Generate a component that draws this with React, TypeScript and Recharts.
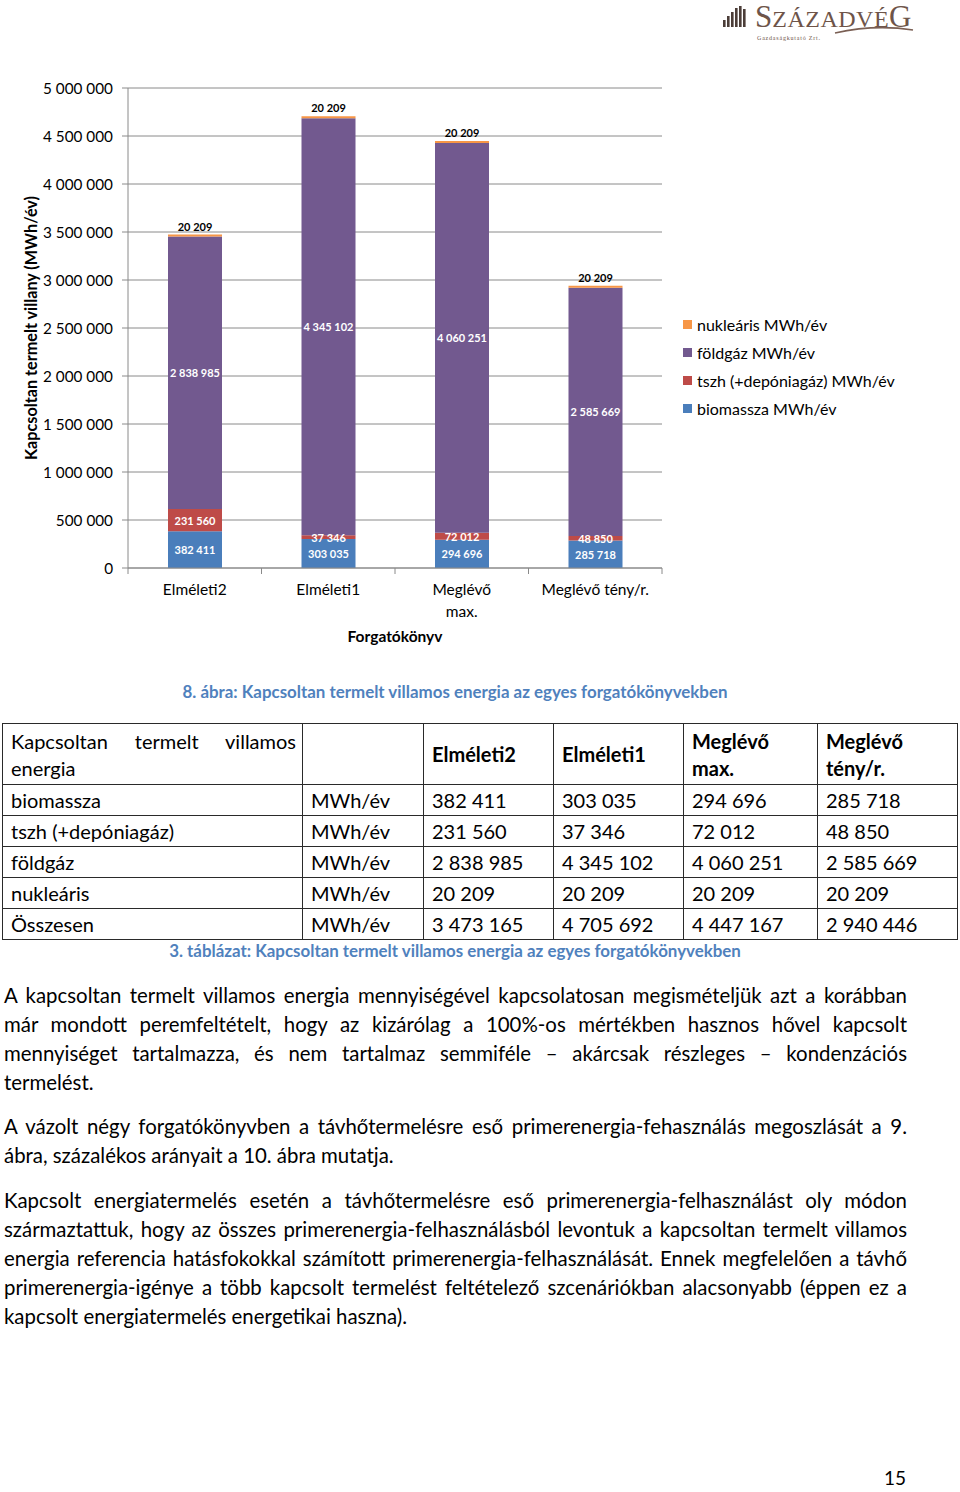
import React from "react";
import { BarChart, Bar, XAxis, YAxis, CartesianGrid, LabelList } from "recharts";

// ---------- data ----------
const categories = ["Elméleti2", "Elméleti1", "Meglévő max.", "Meglévő tény/r."];
const categoryTickLines = [["Elméleti2"], ["Elméleti1"], ["Meglévő", "max."], ["Meglévő tény/r."]];
const biomassza = [382411, 303035, 294696, 285718];
const tszh = [231560, 37346, 72012, 48850];
const foldgaz = [2838985, 4345102, 4060251, 2585669];
const nuklearis = [20209, 20209, 20209, 20209];
const osszesen = [3473165, 4705692, 4447167, 2940446];
const yTicks = [0, 500000, 1000000, 1500000, 2000000, 2500000, 3000000, 3500000, 4000000, 4500000, 5000000];

const seriesNames = {
  nuklearis: "nukleáris MWh/év",
  foldgaz: "földgáz MWh/év",
  tszh: "tszh (+depóniagáz) MWh/év",
  biomassza: "biomassza MWh/év",
};

const tableRowNames = ["biomassza", "tszh (+depóniagáz)", "földgáz", "nukleáris", "Összesen"];
const tableRowValues = [biomassza, tszh, foldgaz, nuklearis, osszesen];
const tableUnit = "MWh/év";

const para1 = [
  "A kapcsoltan termelt villamos energia mennyiségével kapcsolatosan megismételjük azt a korábban",
  "már mondott peremfeltételt, hogy az kizárólag a 100%-os mértékben hasznos hővel kapcsolt",
  "mennyiséget tartalmazza, és nem tartalmaz semmiféle – akárcsak részleges – kondenzációs",
  "termelést.",
];
const para2 = [
  "A vázolt négy forgatókönyvben a távhőtermelésre eső primerenergia-fehasználás megoszlását a 9.",
  "ábra, százalékos arányait a 10. ábra mutatja.",
];
const para3 = [
  "Kapcsolt energiatermelés esetén a távhőtermelésre eső primerenergia-felhasználást oly módon",
  "származtattuk, hogy az összes primerenergia-felhasználásból levontuk a kapcsoltan termelt villamos",
  "energia referencia hatásfokokkal számított primerenergia-felhasználását. Ennek megfelelően a távhő",
  "primerenergia-igénye a több kapcsolt termelést feltételező szcenáriókban alacsonyabb (éppen ez a",
  "kapcsolt energiatermelés energetikai haszna).",
];

// ---------- styling ----------
const C_BLUE = "#4A7EBB";
const C_RED = "#BE4B48";
const C_PURPLE = "#72598F";
const C_ORANGE = "#F79646";
const GRID = "#8A8A8A";
const CAPTION = "#4F81BD";
const FONT = "Lato, 'Open Sans', sans-serif";

const fmt = (v: any) => String(Math.round(Number(v))).replace(/\B(?=(\d{3})+(?!\d))/g, " ");

const data = categories.map((c, i) => ({
  name: c,
  biomassza: biomassza[i],
  tszh: tszh[i],
  foldgaz: foldgaz[i],
  nuklearis: nuklearis[i],
}));

const XTick = (props: any) => {
  const { x, y, payload } = props;
  const idx = payload.index ?? categories.indexOf(payload.value);
  const off = payload.offset ?? 66.75;
  const lines = categoryTickLines[idx] || [String(payload.value)];
  const axisY = y - 8;
  return (
    <g>
      <line x1={x + off} x2={x + off} y1={axisY} y2={axisY + 6} stroke={GRID} strokeWidth={1} />
      {idx === 0 && <line x1={x - off} x2={x - off} y1={axisY} y2={axisY + 6} stroke={GRID} strokeWidth={1} />}
      {lines.map((l: string, i: number) => (
        <text key={i} x={x} y={y + 19 + i * 22} textAnchor="middle" fill="#000" fontSize={15.5} fontFamily={FONT}>
          {l}
        </text>
      ))}
    </g>
  );
};

const CenterLabel = (p: any) => {
  const { x, y, width, height, value } = p;
  return (
    <text
      x={Number(x) + Number(width) / 2}
      y={Number(y) + Number(height) / 2}
      textAnchor="middle"
      dominantBaseline="central"
      fill="#fff"
      fontFamily={FONT}
      fontWeight={700}
      fontSize={11}
    >
      {fmt(value)}
    </text>
  );
};

const TopLabel = (p: any) => {
  const { x, y, width, value } = p;
  return (
    <text
      x={Number(x) + Number(width) / 2}
      y={Number(y) - 4}
      textAnchor="middle"
      fill="#000"
      fontFamily={FONT}
      fontWeight={700}
      fontSize={11}
    >
      {fmt(value)}
    </text>
  );
};

const legendItems = [
  { name: seriesNames.nuklearis, color: C_ORANGE },
  { name: seriesNames.foldgaz, color: C_PURPLE },
  { name: seriesNames.tszh, color: C_RED },
  { name: seriesNames.biomassza, color: C_BLUE },
];

const JustifiedLines = ({ lines, top }: { lines: string[]; top: number }) => (
  <div style={{ position: "absolute", left: 4, top, width: 903, fontFamily: FONT, fontSize: 20.4, lineHeight: "29px", color: "#000" }}>
    {lines.map((l, i) => (
      <div
        key={i}
        style={{
          textAlign: i === lines.length - 1 ? "left" : "justify",
          textAlignLast: i === lines.length - 1 ? "left" : "justify",
          whiteSpace: "normal",
        }}
      >
        {l}
      </div>
    ))}
  </div>
);

const Logo = () => (
  <svg width={220} height={48} style={{ position: "absolute", left: 715, top: 0 }}>
    {[7, 11, 15, 19, 21, 18].map((h, i) => (
      <rect key={i} x={8 + i * 4} y={27 - h} width={2.6} height={h} fill="#4b3d38" />
    ))}
    <text x={40} y={27} fontFamily="'Liberation Serif', serif" fill="#6e5449">
      <tspan fontSize={31}>S</tspan>
      <tspan fontSize={24} letterSpacing={0.5}>ZÁZADVÉ</tspan>
      <tspan fontSize={31}>G</tspan>
    </text>
    <path d="M 120 33 Q 160 24 198 30" stroke="#7a5f54" strokeWidth={1.6} fill="none" />
    <text x={42} y={40} fontFamily="'Liberation Serif', serif" fontSize={6} letterSpacing={0.8} fill="#6e5449">
      Gazdaságkutató Zrt.
    </text>
  </svg>
);

const cellBorder = "1.5px solid #2a2a2a";

const Table = () => {
  const cols = [300, 121, 130, 130, 134, 140];
  const headerBold = ["Elméleti2", "Elméleti1"];
  const cell = (content: React.ReactNode, extra: React.CSSProperties = {}, key?: any) => (
    <div
      key={key}
      style={{
        borderRight: cellBorder,
        borderBottom: cellBorder,
        boxSizing: "border-box",
        paddingLeft: 8,
        display: "flex",
        alignItems: "center",
        overflow: "hidden",
        ...extra,
      }}
    >
      {content}
    </div>
  );
  return (
    <div
      style={{
        position: "absolute",
        left: 2,
        top: 723,
        display: "grid",
        gridTemplateColumns: cols.map((c) => c + "px").join(" "),
        gridTemplateRows: "61px repeat(5, 31px)",
        borderTop: cellBorder,
        borderLeft: cellBorder,
        fontFamily: FONT,
        fontSize: 20,
        color: "#000",
        boxSizing: "border-box",
      }}
    >
      {cell(
        <div style={{ width: "100%", lineHeight: "27px", paddingRight: 6 }}>
          <div style={{ textAlign: "justify", textAlignLast: "justify" }}>Kapcsoltan termelt villamos</div>
          <div>energia</div>
        </div>,
        { alignItems: "flex-start", paddingTop: 4 },
        "h0"
      )}
      {cell("", {}, "h1")}
      {headerBold.map((h, i) => cell(<b>{h}</b>, {}, "hb" + i))}
      {cell(
        <div style={{ lineHeight: "27px", fontWeight: 700 }}>
          <div>Meglévő</div>
          <div>max.</div>
        </div>,
        { alignItems: "flex-start", paddingTop: 4 },
        "h4"
      )}
      {cell(
        <div style={{ lineHeight: "27px", fontWeight: 700 }}>
          <div>Meglévő</div>
          <div>tény/r.</div>
        </div>,
        { alignItems: "flex-start", paddingTop: 4 },
        "h5"
      )}
      {tableRowNames.map((rn, r) => (
        <React.Fragment key={rn}>
          {cell(rn, {}, "n" + r)}
          {cell(tableUnit, {}, "u" + r)}
          {tableRowValues[r].map((v, c) => cell(fmt(v), {}, "v" + r + "_" + c))}
        </React.Fragment>
      ))}
    </div>
  );
};

export default function App() {
  return (
    <div style={{ position: "absolute", left: 0, top: 0, width: 960, height: 1492, background: "#fff", overflow: "hidden" }}>
      <Logo />
      <div style={{ position: "absolute", left: 0, top: 0 }}>
        <BarChart
          width={960}
          height={660}
          data={data}
          margin={{ top: 88, right: 298, bottom: 0, left: 0 }}
          barSize={54}
        >
          <CartesianGrid vertical={false} stroke={GRID} strokeWidth={1} />
          <XAxis
            dataKey="name"
            height={92}
            axisLine={{ stroke: GRID, strokeWidth: 1 }}
            tickLine={false}
            tickSize={6}
            tickMargin={2}
            interval={0}
            tick={<XTick />}
            label={{
              content: (p: any) => {
                const vb = p.viewBox || { x: 128, y: 568, width: 534 };
                return (
                  <text x={vb.x + vb.width / 2} y={vb.y + 74} textAnchor="middle" fontFamily={FONT} fontWeight={700} fontSize={15.5} fill="#000">
                    Forgatókönyv
                  </text>
                );
              },
            }}
          />
          <YAxis
            width={128}
            domain={[0, 5000000]}
            ticks={yTicks}
            interval={0}
            axisLine={{ stroke: GRID, strokeWidth: 1 }}
            tickLine={{ stroke: GRID, strokeWidth: 1 }}
            tickSize={6}
            tickMargin={9}
            tickFormatter={fmt}
            tick={{ fill: "#000", fontSize: 15.3, fontFamily: FONT, dy: 1 }}
            label={{
              content: (p: any) => {
                const vb = p.viewBox || { x: 0, y: 88, width: 128, height: 480 };
                const cx = 30;
                const cy = vb.y + vb.height / 2;
                return (
                  <text
                    x={cx}
                    y={cy}
                    transform={`rotate(-90 ${cx} ${cy})`}
                    textAnchor="middle"
                    dominantBaseline="central"
                    fontFamily={FONT}
                    fontWeight={700}
                    fontSize={16.2}
                    fill="#000"
                  >
                    Kapcsoltan termelt villany (MWh/év)
                  </text>
                );
              },
            }}
          />
          <Bar dataKey="biomassza" stackId="a" fill={C_BLUE} isAnimationActive={false} name={seriesNames.biomassza}>
            <LabelList dataKey="biomassza" content={CenterLabel} />
          </Bar>
          <Bar dataKey="tszh" stackId="a" fill={C_RED} isAnimationActive={false} name={seriesNames.tszh}>
            <LabelList dataKey="tszh" content={CenterLabel} />
          </Bar>
          <Bar dataKey="foldgaz" stackId="a" fill={C_PURPLE} isAnimationActive={false} name={seriesNames.foldgaz}>
            <LabelList dataKey="foldgaz" content={CenterLabel} />
          </Bar>
          <Bar dataKey="nuklearis" stackId="a" fill={C_ORANGE} isAnimationActive={false} name={seriesNames.nuklearis}>
            <LabelList dataKey="nuklearis" content={TopLabel} />
          </Bar>
        </BarChart>
      </div>

      {/* legend */}
      <div style={{ position: "absolute", left: 683, top: 310, fontFamily: FONT, fontSize: 16, color: "#000" }}>
        {legendItems.map((it) => (
          <div key={it.name} style={{ height: 28, display: "flex", alignItems: "center", whiteSpace: "nowrap" }}>
            <span style={{ display: "inline-block", width: 9, height: 9, background: it.color, marginRight: 5 }} />
            {it.name}
          </div>
        ))}
      </div>

      {/* figure caption */}
      <div style={{ position: "absolute", left: 0, top: 681, width: 910, textAlign: "center", fontFamily: FONT, fontWeight: 700, fontSize: 16.9, color: CAPTION }}>
        8. ábra: Kapcsoltan termelt villamos energia az egyes forgatókönyvekben
      </div>

      <Table />

      <div style={{ position: "absolute", left: 0, top: 940, width: 910, textAlign: "center", fontFamily: FONT, fontWeight: 700, fontSize: 16.9, color: CAPTION }}>
        3. táblázat: Kapcsoltan termelt villamos energia az egyes forgatókönyvekben
      </div>

      <JustifiedLines lines={para1} top={981} />
      <JustifiedLines lines={para2} top={1112} />
      <JustifiedLines lines={para3} top={1186} />

      <div style={{ position: "absolute", left: 860, top: 1470, width: 46, lineHeight: "16px", textAlign: "right", fontFamily: FONT, fontSize: 19, color: "#000" }}>
        15
      </div>
    </div>
  );
}
